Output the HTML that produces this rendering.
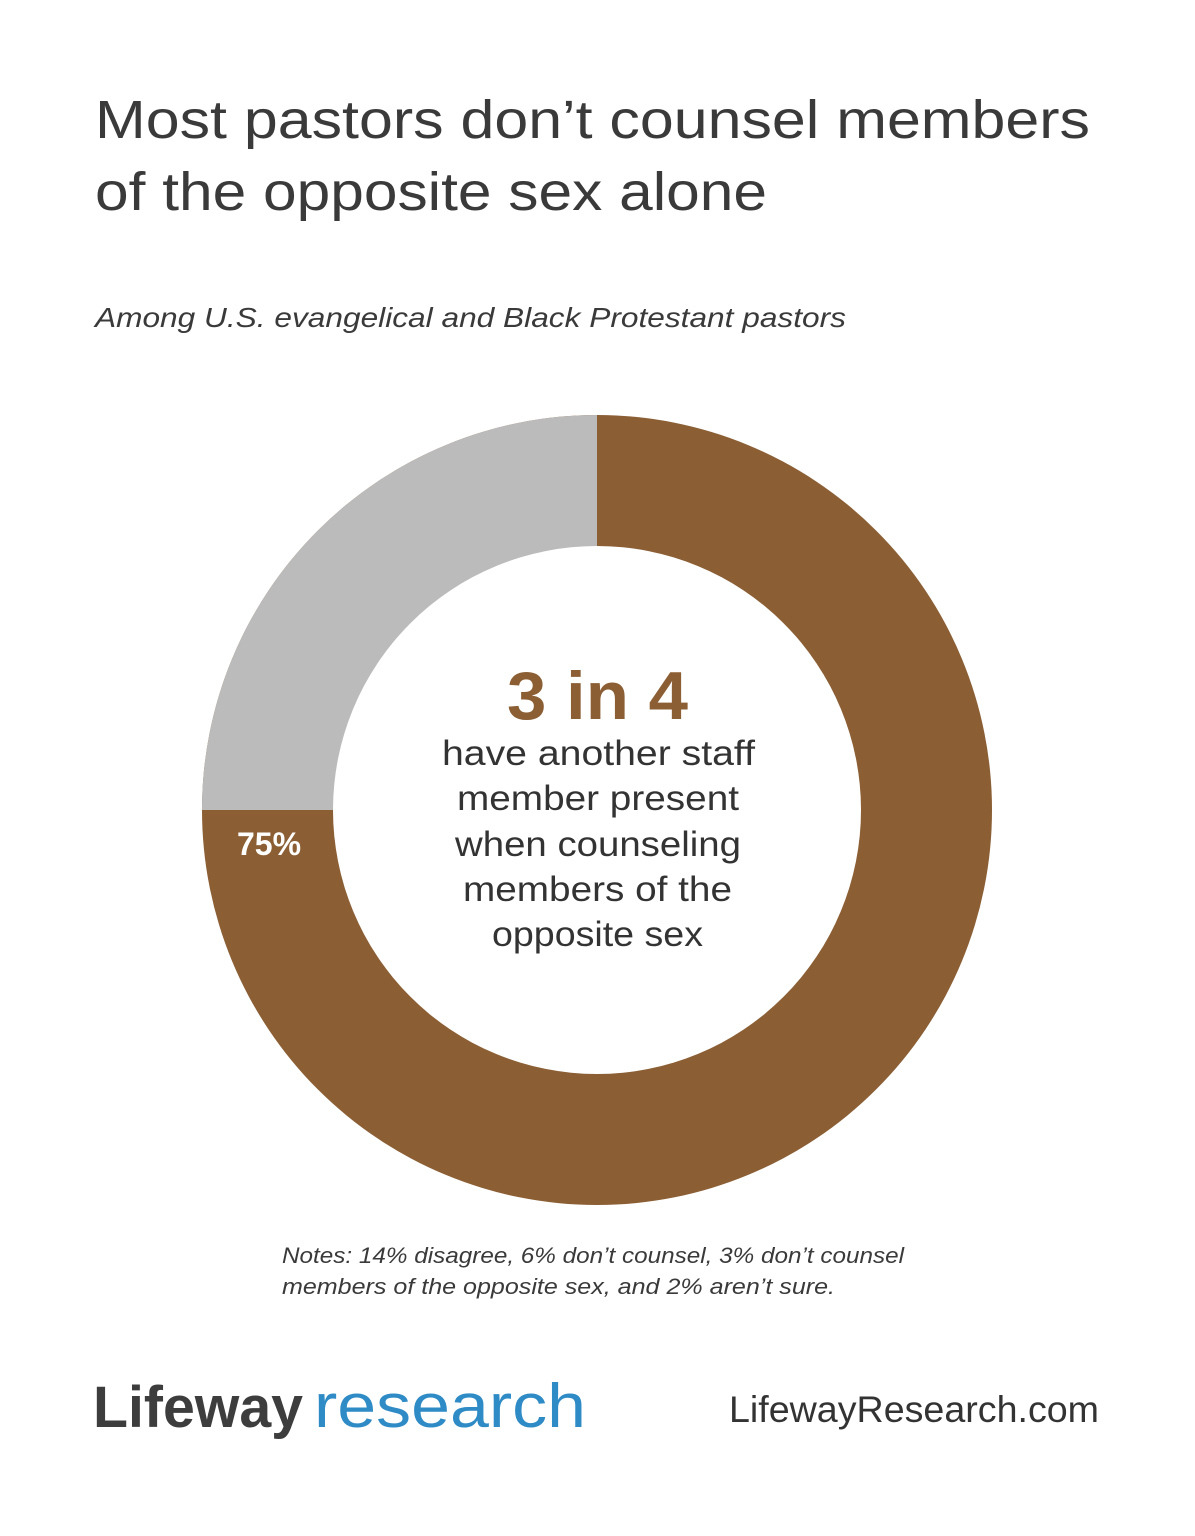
<!DOCTYPE html>
<html><head><meta charset="utf-8"><style>
html,body{margin:0;padding:0;background:#fff;}
svg{display:block;}
</style></head><body>
<svg width="1195" height="1536" viewBox="0 0 1195 1536" xmlns="http://www.w3.org/2000/svg" font-family="Liberation Sans, sans-serif">
<rect width="1195" height="1536" fill="#fff"/>
<text x="95" y="138" font-size="54" fill="#3a3a3a" textLength="995" lengthAdjust="spacingAndGlyphs">Most pastors don’t counsel members</text>
<text x="95" y="210" font-size="54" fill="#3a3a3a" textLength="672" lengthAdjust="spacingAndGlyphs">of the opposite sex alone</text>
<text x="95" y="327" font-size="28" font-style="italic" fill="#3a3a3a" textLength="751" lengthAdjust="spacingAndGlyphs">Among U.S. evangelical and Black Protestant pastors</text>
<circle cx="597" cy="810" r="395" fill="#8b5e34"/>
<path d="M597,810 L202,810 A395,395 0 0 1 597,415 Z" fill="#bcbbbc"/>
<circle cx="597" cy="810" r="264" fill="#fff"/>
<text x="507" y="719" font-size="68" font-weight="bold" fill="#8b5e34" textLength="181" lengthAdjust="spacingAndGlyphs">3 in 4</text>
<g font-size="35" fill="#333">
<text x="442" y="765" textLength="313" lengthAdjust="spacingAndGlyphs">have another staff</text>
<text x="457" y="810" textLength="282" lengthAdjust="spacingAndGlyphs">member present</text>
<text x="455" y="856" textLength="286" lengthAdjust="spacingAndGlyphs">when counseling</text>
<text x="463" y="901" textLength="269" lengthAdjust="spacingAndGlyphs">members of the</text>
<text x="492" y="946" textLength="211" lengthAdjust="spacingAndGlyphs">opposite sex</text>
</g>
<text x="237" y="855" font-size="32" font-weight="bold" fill="#fff">75%</text>
<text x="282" y="1263" font-size="22" font-style="italic" fill="#3a3a3a" textLength="622" lengthAdjust="spacingAndGlyphs">Notes: 14% disagree, 6% don’t counsel, 3% don’t counsel</text>
<text x="282" y="1294" font-size="22" font-style="italic" fill="#3a3a3a" textLength="553" lengthAdjust="spacingAndGlyphs">members of the opposite sex, and 2% aren’t sure.</text>
<text x="93" y="1427" font-size="58" font-weight="bold" fill="#3d3d3d" textLength="210" lengthAdjust="spacingAndGlyphs">Lifeway</text>
<text x="314" y="1427" font-size="62" fill="#2e8bc6" textLength="272" lengthAdjust="spacingAndGlyphs">research</text>
<text x="729" y="1422" font-size="37" fill="#333" textLength="370" lengthAdjust="spacingAndGlyphs">LifewayResearch.com</text>
</svg>
</body></html>
